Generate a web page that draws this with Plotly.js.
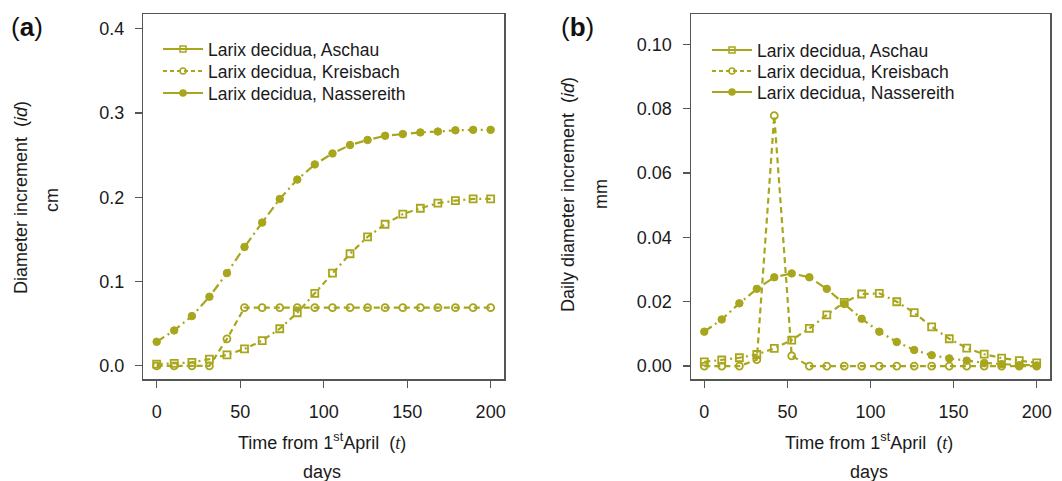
<!DOCTYPE html>
<html>
<head>
<meta charset="utf-8">
<script src="https://cdn.plot.ly/plotly-3.0.1.min.js"></script>
<style>html,body{margin:0;padding:0;background:#fff;}#chart{width:1062px;height:481px;}</style>
</head>
<body>
<div id="chart"></div>
<script>
// Days from 1st April
var days = [0, 10.5, 21.1, 31.6, 42.1, 52.6, 63.2, 73.7, 84.2, 94.7, 105.3, 115.8, 126.3, 136.8, 147.4, 157.9, 168.4, 178.9, 189.5, 200];
var seriesNames = ["Larix decidua, Aschau", "Larix decidua, Kreisbach", "Larix decidua, Nassereith"];

// (a) Diameter increment, cm
var aschauA = [0.002, 0.003, 0.004, 0.008, 0.013, 0.020, 0.030, 0.044, 0.063, 0.086, 0.110, 0.133, 0.153, 0.168, 0.180, 0.187, 0.193, 0.196, 0.198, 0.198];
var kreisbachA = [0.000, 0.000, 0.000, 0.000, 0.032, 0.069, 0.069, 0.069, 0.069, 0.069, 0.069, 0.069, 0.069, 0.069, 0.069, 0.069, 0.069, 0.069, 0.069, 0.069];
var nassereithA = [0.0285, 0.042, 0.059, 0.082, 0.110, 0.141, 0.170, 0.198, 0.221, 0.239, 0.252, 0.262, 0.268, 0.273, 0.275, 0.277, 0.278, 0.2795, 0.280, 0.280];

// (b) Daily diameter increment, mm
var aschauB = [0.0013, 0.0019, 0.0026, 0.0036, 0.0055, 0.0081, 0.0117, 0.0159, 0.0198, 0.0224, 0.0226, 0.0200, 0.0166, 0.0122, 0.0085, 0.0056, 0.0037, 0.0025, 0.0017, 0.0010];
var kreisbachB = [0.0000, 0.0000, 0.0000, 0.0020, 0.0778, 0.0032, 0.0000, 0.0000, 0.0000, 0.0000, 0.0000, 0.0000, 0.0000, 0.0000, 0.0000, 0.0000, 0.0000, 0.0000, 0.0000, 0.0000];
var nassereithB = [0.0107, 0.0145, 0.0195, 0.0240, 0.0276, 0.0288, 0.0276, 0.0240, 0.0193, 0.0147, 0.0107, 0.0075, 0.0050, 0.0034, 0.0024, 0.0017, 0.0010, 0.0006, 0.0003, 0.0002];

var xTicks = [0, 50, 100, 150, 200];
var yTicksA = [0.0, 0.1, 0.2, 0.3, 0.4];
var yTicksB = [0.00, 0.02, 0.04, 0.06, 0.08, 0.10];

var COL = '#a8a61c';
var FONT = 'Liberation Sans, Arial, sans-serif';
var styles = [
  {sym: 'square-open', size: 7, lw: 1.8, dash: '6px,4px,2px,4px', legDash: 'solid'},
  {sym: 'circle-open', size: 7, lw: 1.8, dash: '6px,4px', legDash: '4px,3px'},
  {sym: 'circle', size: 7.5, lw: 1, dash: '9px,4px,2px,4px', legDash: 'solid'}
];

function dataTrace(y, i, xa, ya) {
  return {
    x: days, y: y, xaxis: xa, yaxis: ya, type: 'scatter', mode: 'lines+markers',
    showlegend: false, hoverinfo: 'skip',
    line: {color: COL, width: 2.2, dash: styles[i].dash},
    marker: {symbol: styles[i].sym, size: styles[i].size, color: COL, line: {color: COL, width: styles[i].lw}}
  };
}
function legTrace(i, leg, xa, ya) {
  return {
    x: [null], y: [null], xaxis: xa, yaxis: ya, type: 'scatter', mode: 'lines+markers',
    name: seriesNames[i], legend: leg, showlegend: true,
    line: {color: COL, width: 2, dash: styles[i].legDash},
    marker: {symbol: styles[i].sym, size: 6, color: COL, line: {color: COL, width: 1.5}}
  };
}

var data = [
  dataTrace(aschauA, 0, 'x', 'y'), dataTrace(kreisbachA, 1, 'x', 'y'), dataTrace(nassereithA, 2, 'x', 'y'),
  dataTrace(aschauB, 0, 'x2', 'y2'), dataTrace(kreisbachB, 1, 'x2', 'y2'), dataTrace(nassereithB, 2, 'x2', 'y2'),
  legTrace(0, 'legend', 'x', 'y'), legTrace(1, 'legend2', 'x', 'y'), legTrace(2, 'legend3', 'x', 'y'),
  legTrace(0, 'legend4', 'x2', 'y2'), legTrace(1, 'legend5', 'x2', 'y2'), legTrace(2, 'legend6', 'x2', 'y2')
];

var H = 481, W = 1062;
function axBase() {
  return {
    showgrid: false, zeroline: false, showline: true, mirror: true,
    linecolor: '#555', linewidth: 1.5, ticks: 'outside', ticklen: 7, tickwidth: 1.3, tickcolor: '#555',
    tickfont: {family: FONT, size: 18, color: '#1a1a1a'}, fixedrange: true
  };
}
var xa = Object.assign(axBase(), {domain: [143.3 / W, 504 / W], range: [-8, 208], tickvals: xTicks, ticktext: xTicks.map(String), anchor: 'y', ticklabelstandoff: 9});
var ya = Object.assign(axBase(), {domain: [1 - 379.3 / H, 1 - 14 / H], range: [-0.016, 0.4175], tickvals: yTicksA, ticktext: yTicksA.map(function (v) { return v.toFixed(1); }), anchor: 'x', ticklabelstandoff: 7});
var xa2 = Object.assign(axBase(), {domain: [691 / W, 1050 / W], range: [-8, 208], tickvals: xTicks, ticktext: xTicks.map(String), anchor: 'y2', ticklabelstandoff: 9});
var ya2 = Object.assign(axBase(), {domain: [1 - 379.3 / H, 1 - 14 / H], range: [-0.0041, 0.1094], tickvals: yTicksB, ticktext: yTicksB.map(function (v) { return v.toFixed(2); }), anchor: 'x2', ticklabelstandoff: 7});

var tf = {family: FONT, size: 18, color: '#1a1a1a'};
var tText = 'Time from 1<sup>st</sup>April  (<span style="font-family:Liberation Serif,Times New Roman,serif"><i>t</i></span>)';
function ann(text, x, y, extra) {
  return Object.assign({text: text, x: x / W, y: 1 - y / H, xref: 'paper', yref: 'paper', showarrow: false,
    xanchor: 'center', yanchor: 'middle', font: tf}, extra || {});
}
var annotations = [
  ann('(<b>a</b>)', 27, 27, {font: {family: FONT, size: 26, color: '#111'}}),
  ann('(<b>b</b>)', 577, 27, {font: {family: FONT, size: 26, color: '#111'}}),
  ann(tText, 322, 441, {}),
  ann('days', 322, 472, {}),
  ann(tText, 869, 441, {}),
  ann('days', 869, 472, {}),
  ann('Diameter increment  (<i>id</i>)', 21, 198, {textangle: -90}),
  ann('cm', 52, 200, {textangle: -90}),
  ann('Daily diameter increment  (<i>id</i>)', 568, 195, {textangle: -90}),
  ann('mm', 601, 194, {textangle: -90})
];

var legBase = {
  bgcolor: 'rgba(0,0,0,0)', borderwidth: 0, font: {family: FONT, size: 17.5, color: '#1a1a1a'},
  xanchor: 'left', yanchor: 'middle', tracegroupgap: 0, itemwidth: 40, itemclick: false, itemdoubleclick: false
};
function leg(x, y) { return Object.assign({}, legBase, {x: x / W, y: 1 - y / H}); }
var layout = {
  width: W, height: H, margin: {l: 0, r: 0, t: 0, b: 0},
  paper_bgcolor: '#fff', plot_bgcolor: '#fff', showlegend: true,
  xaxis: xa, yaxis: ya, xaxis2: xa2, yaxis2: ya2,
  legend: leg(158, 49), legend2: leg(158, 71), legend3: leg(158, 93),
  legend4: leg(707, 50), legend5: leg(707, 71), legend6: leg(707, 92),
  annotations: annotations
};

Plotly.newPlot('chart', data, layout, {displayModeBar: false, staticPlot: true});
</script>
</body>
</html>
